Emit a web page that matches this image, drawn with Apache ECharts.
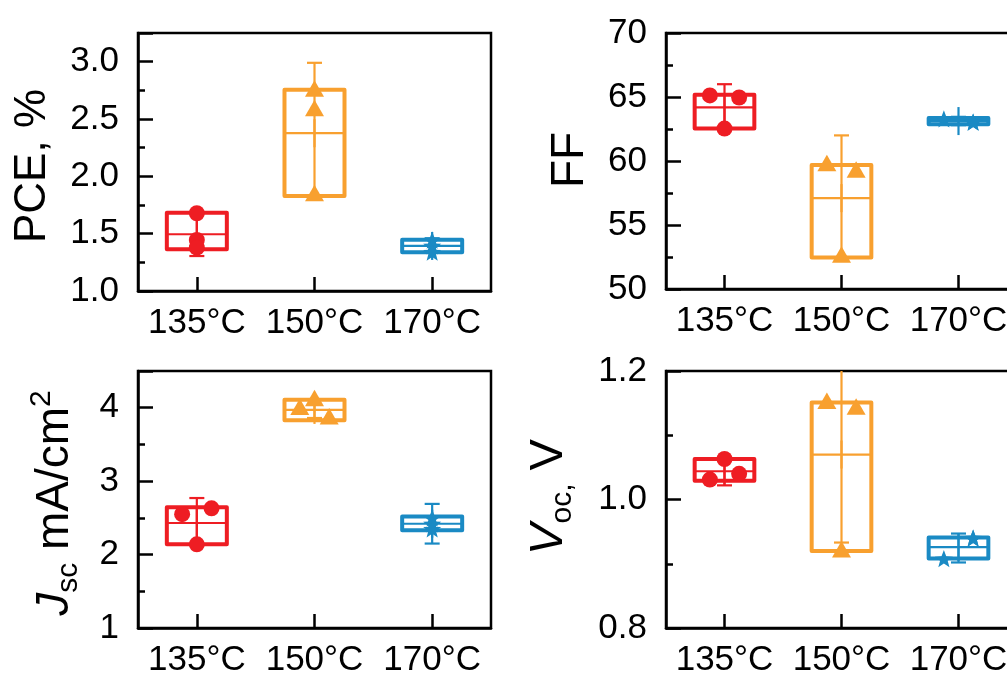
<!DOCTYPE html>
<html><head><meta charset="utf-8">
<script src="https://cdn.jsdelivr.net/npm/echarts@6/dist/echarts.min.js"></script>
<style>html,body{margin:0;padding:0;background:#fff}#c{width:1007px;height:679px}</style>
</head><body><div id="c"></div>
<script>
// ---------------- data ----------------
const categories = ['135°C', '150°C', '170°C'];

// PCE, %
const pceBoxLow   = [1.364, 1.829, 1.338];
const pceBoxHigh  = [1.683, 2.754, 1.448];
const pceMean     = [1.495, 2.376, 1.393];
const pceWhiskLow = [1.305, 1.829, 1.335];
const pceWhiskHigh= [1.683, 2.990, 1.460];
const pcePoints   = [[1.678, 1.445, 1.378], [2.750, 2.580, 1.840], [1.445, 1.395, 1.340]];
const pceJitter   = [[0, 0, 0], [0, 0, 0], [0, 0, 0]];
const pceTicks    = { min: 1.0, max: 3.25, major: 0.5, minor: 0.25, dec: 1 };

// FF
const ffBoxLow    = [62.53, 52.46, 62.88];
const ffBoxHigh   = [65.17, 59.69, 63.36];
const ffMean      = [64.19, 57.10, 63.12];
const ffWhiskLow  = [62.53, 52.46, 62.80];
const ffWhiskHigh = [66.00, 62.00, 63.45];
const ffPoints    = [[65.12, 64.96, 62.53], [59.70, 59.20, 52.55], [63.30, 63.05, 63.05]];
const ffJitter    = [[-1, 1, 0], [-1, 1, 0], [-1, 1, 1]];
const ffTicks     = { min: 50, max: 70, major: 5, minor: 2.5, dec: 0 };

// Jsc, mA/cm2
const jscBoxLow   = [2.14, 3.83, 2.33];
const jscBoxHigh  = [2.646, 4.11, 2.52];
const jscMean     = [2.43, 3.97, 2.42];
const jscWhiskLow = [2.14, 3.86, 2.15];
const jscWhiskHigh= [2.77, 4.11, 2.69];
const jscPoints   = [[2.55, 2.63, 2.14], [3.99, 4.11, 3.86], [2.50, 2.42, 2.35]];
const jscJitter   = [[-1, 1, 0], [-1, 0, 1], [0, 0, 0]];
const jscTicks    = { min: 1, max: 4.5, major: 1, minor: 0.5, dec: 0 };

// Voc, V
const vocBoxLow   = [1.029, 0.920, 0.908];
const vocBoxHigh  = [1.063, 1.151, 0.941];
const vocMean     = [1.044, 1.070, 0.926];
const vocWhiskLow = [1.022, 0.933, 0.902];
const vocWhiskHigh= [1.063, 1.220, 0.947];
const vocPoints   = [[1.031, 1.063, 1.040], [1.151, 1.142, 0.920], [0.908, 0.940, 0.940]];
const vocJitter   = [[-1, 0, 1], [-1, 1, 0], [-1, 1, 1]];
const vocTicks    = { min: 0.8, max: 1.2, major: 0.2, minor: 0.1, dec: 1 };

// ---------------- style ----------------
const FONT = 'Arial, "Liberation Sans", sans-serif';
const COLORS = ['#EE1D23', '#F8A02F', '#1A8AC4'];
const JIT = 0.125;
const BOXW = 0.51;

const panels = [
  { grid: { left: 138, top: 33, width: 353, height: 258 }, ticks: pceTicks,
    box: [pceBoxLow, pceBoxHigh, pceMean, pceWhiskLow, pceWhiskHigh], pts: pcePoints, jit: pceJitter },
  { grid: { left: 666, top: 33, width: 351, height: 256 }, ticks: ffTicks,
    box: [ffBoxLow, ffBoxHigh, ffMean, ffWhiskLow, ffWhiskHigh], pts: ffPoints, jit: ffJitter },
  { grid: { left: 138, top: 371, width: 353, height: 257 }, ticks: jscTicks,
    box: [jscBoxLow, jscBoxHigh, jscMean, jscWhiskLow, jscWhiskHigh], pts: jscPoints, jit: jscJitter },
  { grid: { left: 666, top: 371, width: 351, height: 257 }, ticks: vocTicks,
    box: [vocBoxLow, vocBoxHigh, vocMean, vocWhiskLow, vocWhiskHigh], pts: vocPoints, jit: vocJitter }
];

function renderBox(params, api) {
  const cat = api.value(0);
  const cw = api.size([1, 0])[0];
  const bw = cw * BOXW;
  const pm = api.coord([cat, api.value(3)]);
  const x = pm[0];
  const yBL = api.coord([cat, api.value(1)])[1];
  const yBH = api.coord([cat, api.value(2)])[1];
  const yWL = api.coord([cat, api.value(4)])[1];
  const yWH = api.coord([cat, api.value(5)])[1];
  const col = COLORS[cat];
  const thin = { stroke: col, lineWidth: 2.2, fill: null };
  const cap = 7.5;
  return {
    type: 'group',
    children: [
      { type: 'line', shape: { x1: x, y1: yWH, x2: x, y2: yWL }, style: thin },
      { type: 'line', shape: { x1: x - cap, y1: yWH, x2: x + cap, y2: yWH }, style: thin },
      { type: 'line', shape: { x1: x - cap, y1: yWL, x2: x + cap, y2: yWL }, style: thin },
      { type: 'line', shape: { x1: x, y1: pm[1] - 14, x2: x, y2: pm[1] + 14 }, style: thin },
      { type: 'line', shape: { x1: x - bw / 2, y1: pm[1], x2: x + bw / 2, y2: pm[1] }, style: thin },
      { type: 'rect', shape: { x: x - bw / 2, y: yBH, width: bw, height: yBL - yBH },
        style: { stroke: col, lineWidth: 4, fill: null, lineJoin: 'round' } }
    ]
  };
}

function starPoints(x, y, R, r) {
  const pts = [];
  for (let k = 0; k < 10; k++) {
    const a = -Math.PI / 2 + k * Math.PI / 5;
    const rad = k % 2 === 0 ? R : r;
    pts.push([x + rad * Math.cos(a), y + rad * Math.sin(a)]);
  }
  return pts;
}

function renderPoint(params, api) {
  const cat = api.value(0);
  const cw = api.size([1, 0])[0];
  const p = api.coord([cat, api.value(1)]);
  const x = p[0] + api.value(2) * cw * JIT;
  const y = p[1];
  const col = COLORS[cat];
  if (cat === 0) return { type: 'circle', shape: { cx: x, cy: y, r: 8 }, style: { fill: col } };
  if (cat === 1) return { type: 'polygon', shape: { points: [[x, y - 10], [x - 9.5, y + 6.5], [x + 9.5, y + 6.5]] }, style: { fill: col } };
  return { type: 'polygon', shape: { points: starPoints(x, y + 1, 9.5, 4) }, style: { fill: col } };
}

const grids = [], xAxes = [], yAxes = [], series = [];
panels.forEach((pn, g) => {
  grids.push(Object.assign({ show: true, borderColor: '#000', borderWidth: 2.5, backgroundColor: 'transparent',
                             containLabel: false, outerBoundsMode: 'none' }, pn.grid));
  xAxes.push({
    gridIndex: g, type: 'category', data: categories, boundaryGap: true,
    axisLine: { show: true, lineStyle: { color: '#000', width: 2.5 } },
    axisTick: { show: true, alignWithLabel: true, inside: true, length: 14, lineStyle: { color: '#000', width: 2.5 } },
    axisLabel: { show: true, color: '#000', fontSize: 35, fontFamily: FONT, margin: 15, interval: 0 },
    splitLine: { show: false }
  });
  const t = pn.ticks;
  yAxes.push({
    gridIndex: g, type: 'value', position: 'left', min: t.min, max: t.max, interval: t.major,
    axisLine: { show: true, lineStyle: { color: '#000', width: 2.5 } },
    axisTick: { show: true, inside: true, length: 15, lineStyle: { color: '#000', width: 2.5 } },
    axisLabel: { show: true, color: '#000', fontSize: 35, fontFamily: FONT, margin: 19,
      showMaxLabel: true, showMinLabel: true,
      formatter: v => {
        const r = (v - t.min) / t.major;
        if (Math.abs(r - Math.round(r)) > 1e-6) return '';
        return Number(v).toFixed(t.dec);
      } },
    splitLine: { show: false }
  });
  yAxes.push({
    gridIndex: g, type: 'value', position: 'left', offset: 0, min: t.min, max: t.max, interval: t.minor,
    axisLine: { show: false },
    axisTick: { show: true, inside: true, length: 7, lineStyle: { color: '#000', width: 2.5 } },
    axisLabel: { show: false },
    splitLine: { show: false }
  });
  const boxData = categories.map((c, i) => [i, pn.box[0][i], pn.box[1][i], pn.box[2][i], pn.box[3][i], pn.box[4][i]]);
  series.push({
    type: 'custom', xAxisIndex: g, yAxisIndex: 2 * g, clip: true, silent: true,
    renderItem: renderBox, data: boxData, encode: { x: 0, y: [1, 2, 3, 4, 5] }, z: 2
  });
  const ptData = [];
  pn.pts.forEach((arr, i) => arr.forEach((v, k) => ptData.push([i, v, pn.jit[i][k]])));
  series.push({
    type: 'custom', xAxisIndex: g, yAxisIndex: 2 * g, clip: true, silent: true,
    renderItem: renderPoint, data: ptData, encode: { x: 0, y: 1 }, z: 3
  });
});

// ---------------- axis titles ----------------
const mctx = document.createElement('canvas').getContext('2d');
function fontStr(s) { return (s.italic ? 'italic ' : '') + s.size + 'px ' + FONT; }
function makeTitle(cx, cy, segs) {
  const widths = segs.map(s => { mctx.font = fontStr(s); return mctx.measureText(s.t).width; });
  const total = widths.reduce((a, b) => a + b, 0);
  let x = -total / 2;
  const children = segs.map((s, k) => {
    const el = { type: 'text', x: x, y: s.dy || 0,
      style: { text: s.t, font: fontStr(s), fill: '#000', textAlign: 'left',
               verticalAlign: 'middle', textVerticalAlign: 'middle' } };
    x += widths[k];
    return el;
  });
  return { type: 'group', x: cx, y: cy, rotation: Math.PI / 2, children };
}
const SS = 30;
const graphics = [
  makeTitle(33, 166, [{ t: 'PCE, %', size: 44 }]),
  makeTitle(570, 160, [{ t: 'FF', size: 46 }]),
  makeTitle(55, 503, [{ t: 'J', size: 46, italic: true }, { t: 'sc', size: SS, dy: 14 },
                      { t: ' mA/cm', size: 46 }, { t: '2', size: SS, dy: -13 }]),
  makeTitle(549, 497, [{ t: 'V', size: 47, italic: true }, { t: 'oc,', size: SS, dy: 14 },
                       { t: ' V', size: 47 }])
];

const chart = echarts.init(document.getElementById('c'), null, { renderer: 'canvas' });
chart.setOption({
  backgroundColor: '#fff',
  animation: false,
  textStyle: { fontFamily: FONT },
  grid: grids, xAxis: xAxes, yAxis: yAxes, series: series,
  graphic: { elements: graphics }
});
</script>
</body></html>
